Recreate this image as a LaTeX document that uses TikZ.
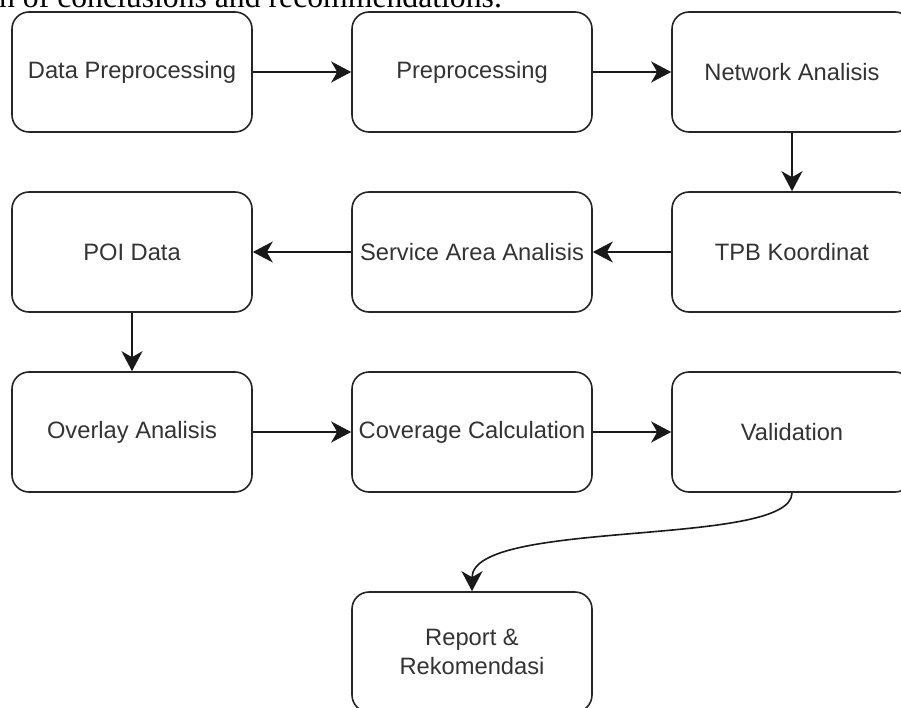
\documentclass[tikz,border=0pt]{standalone}
\usepackage{fontspec}
\newfontfamily\boxfont{Liberation Sans}
\newfontfamily\bodyserif{Liberation Serif}
\usetikzlibrary{arrows.meta}

\tikzset{
  stepbox/.style={draw=black!85, line width=1.6pt, rounded corners=17pt,
    minimum width=240pt, minimum height=120pt, inner sep=0pt,
    align=center, text=black!80,
    font=\boxfont\fontsize{23.7}{29}\selectfont},
  flow/.style={draw=black!90, line width=1.6pt,
    -{Stealth[length=20pt, width=21pt, inset=6pt]}},
}

\begin{document}
\begin{tikzpicture}[x=1pt, y=-1pt]
  \useasboundingbox (0,0) rectangle (901,708);
  \clip (0,0) rectangle (901,708);

  % tail of the preceding paragraph
  \node[anchor=base west, inner sep=0pt] (para) at (-1,7.5)
    {\bodyserif\fontsize{31.7}{38}\selectfont n of conclusions and recommendations.};

  % row 1
  \node[stepbox] (dp)   at (132,72)  {Data Preprocessing};
  \node[stepbox] (pre)  at (472,72)  {Preprocessing};
  \node[stepbox] (net)  at (792,72)  {Network Analisis};
  % row 2
  \node[stepbox] (poi)  at (132,252) {POI Data};
  \node[stepbox] (sa)   at (472,252) {Service Area Analisis};
  \node[stepbox] (tpb)  at (792,252) {TPB Koordinat};
  % row 3
  \node[stepbox] (ov)   at (132,432) {Overlay Analisis};
  \node[stepbox] (cov)  at (472,432) {Coverage Calculation};
  \node[stepbox] (val)  at (792,432) {Validation};
  % final step
  \node[stepbox] (rep)  at (472,652) {Report \&\\Rekomendasi};

  % connectors
  \draw[flow] (dp.east) -- (pre.west);
  \draw[flow] (pre.east) -- (net.west);
  \draw[flow] (net.south) -- (tpb.north);
  \draw[flow] (tpb.west) -- (sa.east);
  \draw[flow] (sa.west) -- (poi.east);
  \draw[flow] (poi.south) -- (ov.north);
  \draw[flow] (ov.east) -- (cov.west);
  \draw[flow] (cov.east) -- (val.west);
  \draw[flow] (val.south) .. controls (792,548) and (472,518) .. (rep.north);
\end{tikzpicture}
\end{document}
